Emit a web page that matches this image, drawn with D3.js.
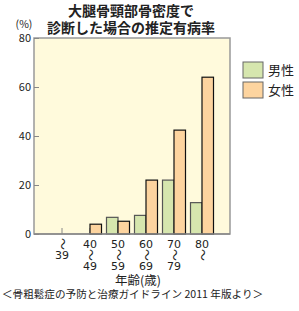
<!DOCTYPE html>
<html>
<head>
<meta charset="utf-8">
<script src="https://cdn.jsdelivr.net/npm/d3@7"></script>
<style>
  body { margin: 0; background: #fff; }
  text { font-family: "Noto Sans CJK JP", "Noto Sans", sans-serif; fill: #222; }
  text.num { font-family: "DejaVu Sans", sans-serif; }
</style>
</head>
<body>
<div id="root"></div>
<script>
// age groups, top row / bottom row of each label
const ageFrom = ['', '40', '50', '60', '70', '80'];
const ageTo = ['39', '49', '59', '69', '79', ''];
const male = [0, 0, 6.8, 7.6, 22.0, 12.8];
const female = [0, 4.0, 5.2, 22.0, 42.4, 64.0];
const seriesNames = ['男性', '女性'];
const yTicks = [0, 20, 40, 60, 80];

const maleColor = '#d6e6ae';
const femaleColor = '#fdd49f';

const width = 299, height = 311;
const plot = { left: 34, right: 230, top: 38, bottom: 234 };

const svg = d3.select('#root').append('svg')
    .attr('width', width)
    .attr('height', height);

// title
svg.append('text').attr('x', 131).attr('y', 15.5)
    .attr('text-anchor', 'middle').attr('font-size', 14).attr('font-weight', 'bold')
    .text('大腿骨頸部骨密度で');
svg.append('text').attr('x', 131).attr('y', 33)
    .attr('text-anchor', 'middle').attr('font-size', 14).attr('font-weight', 'bold')
    .text('診断した場合の推定有病率');
svg.append('text').attr('x', 24).attr('y', 28)
    .attr('text-anchor', 'middle').attr('font-size', 10.5)
    .text('(%)');

let y = d3.scaleLinear().domain([0, 80]).range([plot.bottom, plot.top]);
let x = d3.scalePoint().domain(d3.range(ageFrom.length))
    .range([plot.left, plot.right]).padding(1);
let barW = 11.5;

// plot background
svg.append('rect')
    .attr('x', plot.left).attr('y', plot.top)
    .attr('width', plot.right - plot.left).attr('height', plot.bottom - plot.top)
    .style('fill', '#fffadc')
    .style('stroke', '#999').style('stroke-width', 1.5);

// y axis, ticks pointing inward
let yAxis = svg.append('g').attr('transform', 'translate(' + plot.left + ',0)')
    .call(d3.axisRight(y).tickValues(yTicks).tickSize(5).tickFormat(''));
yAxis.select('.domain').remove();
yAxis.selectAll('line').style('stroke', '#888');

svg.selectAll('.ylab').data(yTicks).enter().append('text')
    .attr('class', 'ylab')
    .attr('x', plot.left - 3).attr('y', d => y(d) + 4)
    .attr('text-anchor', 'end').attr('font-size', 11)
    .text(d => d);

// x ticks pointing up
svg.selectAll('.xtick').data(d3.range(ageFrom.length)).enter().append('line')
    .attr('class', 'xtick')
    .attr('x1', d => x(d)).attr('x2', d => x(d))
    .attr('y1', plot.bottom).attr('y2', plot.bottom - 6)
    .style('stroke', '#888');

// bars
let groups = svg.selectAll('.grp').data(d3.range(ageFrom.length)).enter().append('g')
    .attr('class', 'grp');

groups.filter(i => male[i] > 0).append('rect')
    .attr('x', i => x(i) - barW).attr('y', i => y(male[i]))
    .attr('width', barW).attr('height', i => y(0) - y(male[i]))
    .style('fill', maleColor).style('stroke', '#555').style('stroke-width', 1.2);

groups.filter(i => female[i] > 0).append('rect')
    .attr('x', i => x(i)).attr('y', i => y(female[i]))
    .attr('width', barW).attr('height', i => y(0) - y(female[i]))
    .style('fill', femaleColor).style('stroke', '#111').style('stroke-width', 1.2);

// redraw bottom line over bars
svg.append('line')
    .attr('x1', plot.left).attr('x2', plot.right)
    .attr('y1', plot.bottom).attr('y2', plot.bottom)
    .style('stroke', '#888').style('stroke-width', 1.5);

// x labels (three rows, wave dash set vertical)
function wave(sel, cx, cy) {
    sel.append('text')
        .attr('transform', 'translate(' + cx + ',' + cy + ') rotate(90)')
        .attr('text-anchor', 'middle').attr('dy', '0.35em').attr('font-size', 12)
        .text('〜');
}
ageFrom.forEach(function (from, i) {
    let cx = x(i);
    if (from === '') {
        wave(svg, cx, 244);
        svg.append('text').attr('class', 'num').attr('x', cx).attr('y', 259)
            .attr('text-anchor', 'middle').attr('font-size', 11).text(ageTo[i]);
    } else {
        svg.append('text').attr('class', 'num').attr('x', cx).attr('y', 248)
            .attr('text-anchor', 'middle').attr('font-size', 11).text(from);
        wave(svg, cx, 255);
        if (ageTo[i] !== '') {
            svg.append('text').attr('class', 'num').attr('x', cx).attr('y', 269.5)
                .attr('text-anchor', 'middle').attr('font-size', 11).text(ageTo[i]);
        }
    }
});

svg.append('text').attr('x', 138).attr('y', 285)
    .attr('text-anchor', 'middle').attr('font-size', 12.5)
    .text('年齢(歳)');

svg.append('text').attr('x', 2).attr('y', 298)
    .attr('font-size', 10.6)
    .text('＜骨粗鬆症の予防と治療ガイドライン 2011 年版より＞');

// legend
let legend = svg.selectAll('.leg').data(seriesNames).enter().append('g')
    .attr('class', 'leg')
    .attr('transform', (d, i) => 'translate(243,' + (62 + i * 20) + ')');
legend.append('rect')
    .attr('width', 20).attr('height', 16)
    .style('fill', (d, i) => i === 0 ? maleColor : femaleColor)
    .style('stroke', '#666').style('stroke-width', 1);
legend.append('text')
    .attr('x', 25).attr('y', 13).attr('font-size', 13)
    .text(d => d);
</script>
</body>
</html>
